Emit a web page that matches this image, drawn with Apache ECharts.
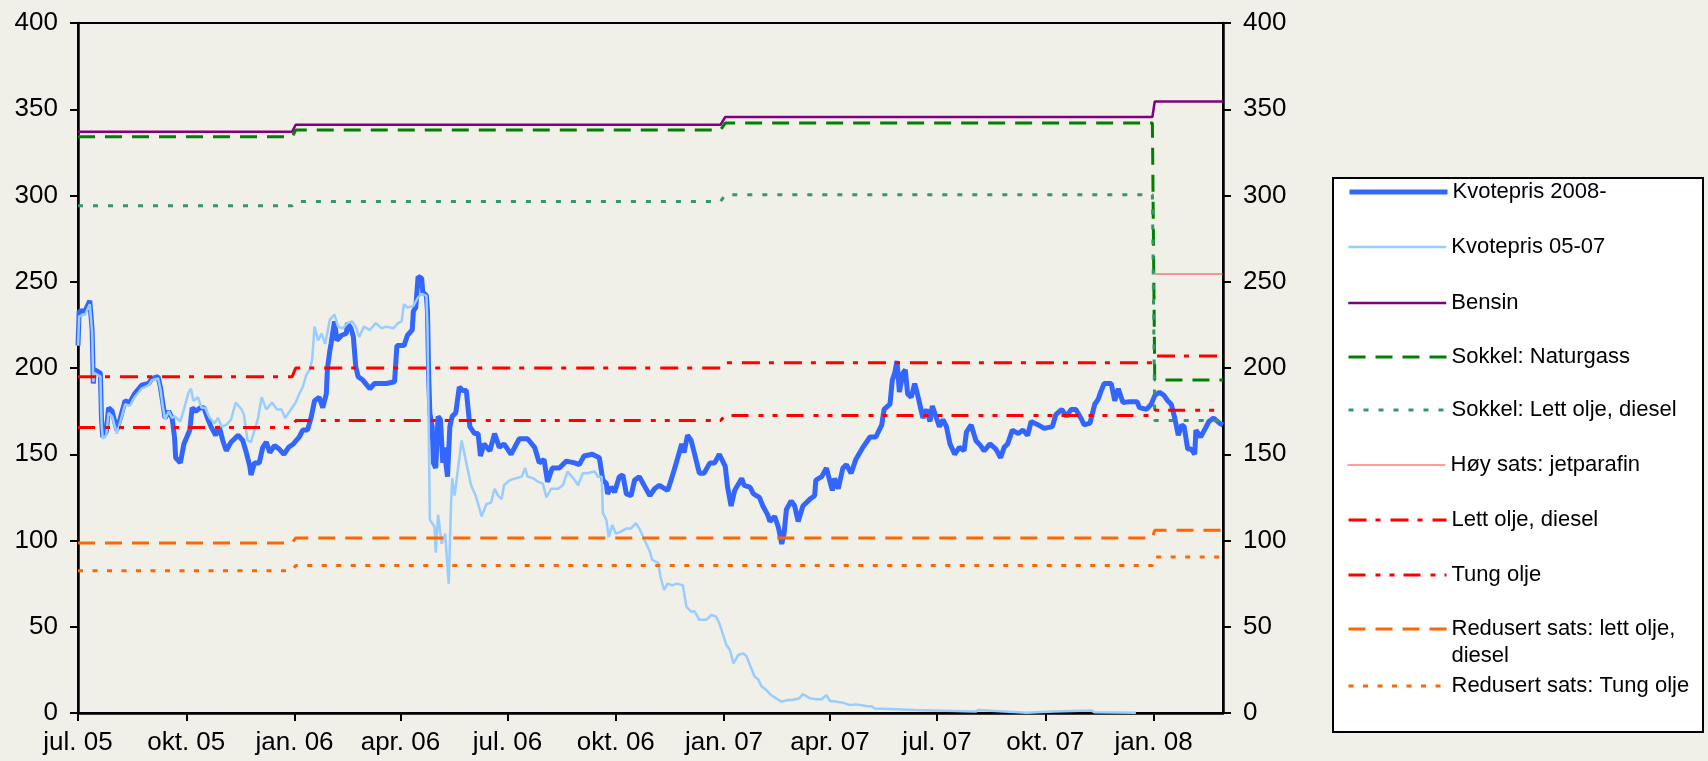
<!DOCTYPE html>
<html>
<head>
<meta charset="utf-8">
<title>Kvotepris og CO2-avgifter</title>
<script src="https://cdn.jsdelivr.net/npm/echarts@6/dist/echarts.min.js"></script>
<style>
    html, body { margin: 0; padding: 0; background: #f0efe8; }
    #chart { width: 1708px; height: 761px; }
</style>
</head>
<body>
<div id="chart"></div>
<script>
// x axis ticks (quarter starts)
var tickDates = ['2005-07-01', '2005-10-01', '2006-01-01', '2006-04-01', '2006-07-01', '2006-10-01',
    '2007-01-01', '2007-04-01', '2007-07-01', '2007-10-01', '2008-01-01'];
var tickLabels = ['jul. 05', 'okt. 05', 'jan. 06', 'apr. 06', 'jul. 06', 'okt. 06',
    'jan. 07', 'apr. 07', 'jul. 07', 'okt. 07', 'jan. 08'];

// tax rates, change at new year
var rateDates = ['2005-07-01', '2005-12-30', '2006-01-02', '2006-12-29', '2007-01-02', '2007-12-31', '2008-01-02', '2008-02-29'];
var bensin         = [337, 337, 341, 341, 345.5, 345.5, 354.5, 354.5];
var sokkelGass     = [334, 334, 338, 338, 342, 342, 193, 193];
var sokkelLettOlje = [294, 294, 296.5, 296.5, 300.5, 300.5, 169.5, 169.5];
var jetparafin     = [null, null, null, null, null, null, 254.5, 254.5];
var lettOlje       = [195, 195, 200, 200, 203, 203, 207, 207];
var tungOlje       = [165.5, 165.5, 169.5, 169.5, 172.5, 172.5, 175.5, 175.5];
var redLettOlje    = [98.5, 98.5, 101.5, 101.5, 101.5, 101.5, 106, 106];
var redTungOlje    = [82.5, 82.5, 85.5, 85.5, 85.5, 85.5, 90.5, 90.5];

// quota price, 2008- contract
var kvote2008 = [
    ['2005-07-01', 213], ['2005-07-02', 233], ['2005-07-07', 233], ['2005-07-11', 239], ['2005-07-13', 222],
    ['2005-07-14', 191], ['2005-07-15', 199], ['2005-07-20', 197], ['2005-07-21', 170], ['2005-07-22', 160],
    ['2005-07-25', 163], ['2005-07-27', 177], ['2005-07-30', 175], ['2005-08-03', 164], ['2005-08-06', 171],
    ['2005-08-10', 181], ['2005-08-14', 180], ['2005-08-18', 185], ['2005-08-24', 190], ['2005-08-30', 191],
    ['2005-09-02', 194], ['2005-09-07', 195], ['2005-09-09', 189], ['2005-09-11', 180], ['2005-09-13', 171],
    ['2005-09-16', 175], ['2005-09-19', 171], ['2005-09-21', 160], ['2005-09-22', 148], ['2005-09-26', 145],
    ['2005-09-29', 156], ['2005-10-04', 164], ['2005-10-06', 177], ['2005-10-09', 175], ['2005-10-13', 177],
    ['2005-10-16', 177], ['2005-10-19', 171], ['2005-10-22', 166], ['2005-10-26', 161], ['2005-10-29', 166],
    ['2005-11-01', 158], ['2005-11-04', 152], ['2005-11-08', 157], ['2005-11-14', 161], ['2005-11-18', 158],
    ['2005-11-21', 151], ['2005-11-24', 143], ['2005-11-25', 138], ['2005-11-28', 145], ['2005-12-02', 145],
    ['2005-12-05', 154], ['2005-12-08', 157], ['2005-12-11', 151], ['2005-12-15', 155], ['2005-12-19', 153],
    ['2005-12-23', 150], ['2005-12-27', 154], ['2005-12-31', 156], ['2006-01-05', 160], ['2006-01-08', 164],
    ['2006-01-12', 164], ['2006-01-15', 171], ['2006-01-18', 181], ['2006-01-22', 183], ['2006-01-25', 177],
    ['2006-01-28', 185], ['2006-01-29', 200], ['2006-01-31', 210], ['2006-02-01', 214], ['2006-02-04', 227],
    ['2006-02-06', 216], ['2006-02-10', 219], ['2006-02-14', 220], ['2006-02-15', 226], ['2006-02-18', 223],
    ['2006-02-20', 218], ['2006-02-22', 201], ['2006-02-24', 195], ['2006-02-28', 193], ['2006-03-06', 188],
    ['2006-03-10', 191], ['2006-03-16', 191], ['2006-03-20', 191], ['2006-03-27', 192], ['2006-03-29', 213],
    ['2006-04-04', 213], ['2006-04-07', 219], ['2006-04-11', 222], ['2006-04-12', 233], ['2006-04-14', 235],
    ['2006-04-16', 253], ['2006-04-19', 252], ['2006-04-20', 244], ['2006-04-23', 242], ['2006-04-24', 233],
    ['2006-04-25', 195], ['2006-04-26', 174], ['2006-04-28', 166], ['2006-04-29', 145], ['2006-05-01', 142],
    ['2006-05-03', 172], ['2006-05-05', 170], ['2006-05-07', 145], ['2006-05-08', 154], ['2006-05-11', 137],
    ['2006-05-13', 166], ['2006-05-15', 172], ['2006-05-18', 174], ['2006-05-21', 189], ['2006-05-24', 187],
    ['2006-05-27', 187], ['2006-05-30', 166], ['2006-06-03', 162], ['2006-06-06', 162], ['2006-06-08', 149],
    ['2006-06-11', 156], ['2006-06-16', 152], ['2006-06-20', 162], ['2006-06-24', 154], ['2006-06-28', 156],
    ['2006-07-04', 150], ['2006-07-11', 159], ['2006-07-18', 159], ['2006-07-24', 154], ['2006-07-28', 145],
    ['2006-08-01', 147], ['2006-08-04', 134], ['2006-08-08', 142], ['2006-08-14', 142], ['2006-08-20', 146],
    ['2006-08-27', 145], ['2006-08-31', 144], ['2006-09-04', 149], ['2006-09-11', 150], ['2006-09-17', 148],
    ['2006-09-20', 135], ['2006-09-23', 133], ['2006-09-24', 127], ['2006-09-27', 131], ['2006-09-30', 128],
    ['2006-10-04', 137], ['2006-10-07', 138], ['2006-10-10', 127], ['2006-10-14', 126], ['2006-10-17', 135],
    ['2006-10-21', 137], ['2006-10-25', 132], ['2006-10-30', 126], ['2006-11-03', 130], ['2006-11-07', 132],
    ['2006-11-14', 129], ['2006-11-17', 135], ['2006-11-21', 144], ['2006-11-26', 156], ['2006-11-28', 151],
    ['2006-12-01', 161], ['2006-12-04', 158], ['2006-12-07', 150], ['2006-12-11', 139], ['2006-12-15', 139],
    ['2006-12-20', 145], ['2006-12-24', 145], ['2006-12-28', 150], ['2007-01-02', 143], ['2007-01-04', 131],
    ['2007-01-07', 120], ['2007-01-10', 129], ['2007-01-16', 136], ['2007-01-18', 132], ['2007-01-23', 131],
    ['2007-01-26', 127], ['2007-01-31', 125], ['2007-02-03', 120], ['2007-02-07', 115], ['2007-02-09', 111],
    ['2007-02-13', 114], ['2007-02-16', 108], ['2007-02-17', 105], ['2007-02-19', 98], ['2007-02-21', 104],
    ['2007-02-23', 118], ['2007-02-27', 123], ['2007-03-02', 120], ['2007-03-05', 111], ['2007-03-09', 120],
    ['2007-03-15', 124], ['2007-03-19', 126], ['2007-03-20', 135], ['2007-03-25', 137], ['2007-03-29', 142],
    ['2007-04-03', 129], ['2007-04-05', 136], ['2007-04-08', 130], ['2007-04-12', 142], ['2007-04-15', 144],
    ['2007-04-19', 139], ['2007-04-23', 147], ['2007-04-29', 154], ['2007-05-05', 160], ['2007-05-10', 160],
    ['2007-05-15', 167], ['2007-05-17', 176], ['2007-05-22', 179], ['2007-05-24', 193], ['2007-05-26', 197],
    ['2007-05-28', 204], ['2007-05-30', 186], ['2007-06-02', 197], ['2007-06-04', 199], ['2007-06-06', 185],
    ['2007-06-09', 183], ['2007-06-12', 191], ['2007-06-15', 183], ['2007-06-18', 174], ['2007-06-19', 171],
    ['2007-06-22', 176], ['2007-06-25', 169], ['2007-06-27', 178], ['2007-06-30', 172], ['2007-07-03', 166],
    ['2007-07-06', 170], ['2007-07-09', 166], ['2007-07-12', 156], ['2007-07-16', 150], ['2007-07-20', 154],
    ['2007-07-24', 152], ['2007-07-26', 163], ['2007-07-30', 167], ['2007-08-03', 158], ['2007-08-07', 155],
    ['2007-08-10', 152], ['2007-08-15', 156], ['2007-08-20', 153], ['2007-08-24', 148], ['2007-08-27', 154],
    ['2007-08-30', 156], ['2007-09-03', 164], ['2007-09-08', 162], ['2007-09-12', 164], ['2007-09-16', 161],
    ['2007-09-19', 169], ['2007-09-25', 167], ['2007-09-30', 165], ['2007-10-07', 166], ['2007-10-10', 173],
    ['2007-10-15', 176], ['2007-10-19', 172], ['2007-10-23', 176], ['2007-10-27', 176], ['2007-11-01', 170],
    ['2007-11-03', 167], ['2007-11-08', 168], ['2007-11-12', 179], ['2007-11-15', 182], ['2007-11-17', 186],
    ['2007-11-20', 191], ['2007-11-26', 191], ['2007-11-29', 181], ['2007-12-02', 188], ['2007-12-06', 180],
    ['2007-12-12', 180.5], ['2007-12-18', 180.5], ['2007-12-20', 177], ['2007-12-26', 176], ['2007-12-30', 179],
    ['2008-01-02', 184], ['2008-01-06', 186], ['2008-01-10', 184], ['2008-01-13', 181], ['2008-01-16', 179],
    ['2008-01-19', 171], ['2008-01-22', 161], ['2008-01-25', 167], ['2008-01-27', 166], ['2008-01-30', 153],
    ['2008-02-02', 153], ['2008-02-05', 150], ['2008-02-06', 164], ['2008-02-10', 160], ['2008-02-14', 165],
    ['2008-02-17', 169], ['2008-02-21', 171], ['2008-02-26', 168], ['2008-02-29', 167]
];

// quota price, 05-07 contract
var kvote0507 = [
    ['2005-07-01', 213], ['2005-07-02', 230], ['2005-07-07', 231], ['2005-07-11', 237], ['2005-07-13', 221],
    ['2005-07-14', 192], ['2005-07-15', 197], ['2005-07-20', 195], ['2005-07-21', 168], ['2005-07-22', 159],
    ['2005-07-25', 161], ['2005-07-27', 174], ['2005-07-30', 172], ['2005-08-03', 162], ['2005-08-06', 169],
    ['2005-08-10', 179], ['2005-08-14', 178], ['2005-08-18', 183], ['2005-08-24', 188], ['2005-08-30', 190],
    ['2005-09-02', 193], ['2005-09-07', 194], ['2005-09-09', 188], ['2005-09-11', 178], ['2005-09-13', 170],
    ['2005-09-16', 175], ['2005-09-19', 171], ['2005-09-21', 172], ['2005-09-26', 169], ['2005-09-29', 176],
    ['2005-10-03', 186], ['2005-10-05', 188], ['2005-10-07', 181], ['2005-10-11', 183], ['2005-10-14', 177],
    ['2005-10-17', 177], ['2005-10-21', 171], ['2005-10-25', 168], ['2005-10-28', 171], ['2005-10-31', 166],
    ['2005-11-04', 167], ['2005-11-08', 170], ['2005-11-12', 180], ['2005-11-17', 176], ['2005-11-19', 173],
    ['2005-11-22', 158], ['2005-11-25', 157], ['2005-11-28', 164], ['2005-12-01', 171], ['2005-12-04', 183],
    ['2005-12-08', 176], ['2005-12-13', 180], ['2005-12-17', 176], ['2005-12-21', 176], ['2005-12-24', 171],
    ['2005-12-28', 175], ['2006-01-02', 180], ['2006-01-05', 185], ['2006-01-08', 189], ['2006-01-11', 196],
    ['2006-01-14', 199], ['2006-01-16', 205], ['2006-01-18', 224], ['2006-01-21', 216], ['2006-01-24', 220],
    ['2006-01-27', 214], ['2006-01-31', 228], ['2006-02-04', 231], ['2006-02-07', 224], ['2006-02-11', 223],
    ['2006-02-15', 226], ['2006-02-19', 227], ['2006-02-22', 224], ['2006-02-25', 218], ['2006-03-01', 224],
    ['2006-03-06', 222], ['2006-03-11', 226], ['2006-03-16', 223], ['2006-03-20', 224], ['2006-03-26', 223],
    ['2006-03-30', 226], ['2006-04-02', 227], ['2006-04-04', 237], ['2006-04-07', 235], ['2006-04-12', 236],
    ['2006-04-16', 241], ['2006-04-19', 243], ['2006-04-23', 242], ['2006-04-24', 224], ['2006-04-25', 166],
    ['2006-04-26', 112], ['2006-04-30', 108], ['2006-05-01', 93], ['2006-05-03', 115], ['2006-05-06', 98],
    ['2006-05-09', 104], ['2006-05-12', 75], ['2006-05-14', 121], ['2006-05-15', 136], ['2006-05-17', 126],
    ['2006-05-18', 126], ['2006-05-23', 158], ['2006-05-27', 145], ['2006-05-31', 132], ['2006-06-04', 126],
    ['2006-06-09', 114], ['2006-06-13', 121], ['2006-06-17', 122], ['2006-06-20', 130], ['2006-06-23', 126],
    ['2006-06-26', 124], ['2006-06-28', 132], ['2006-07-03', 135], ['2006-07-08', 136], ['2006-07-13', 137],
    ['2006-07-16', 142], ['2006-07-18', 137], ['2006-07-23', 136], ['2006-07-27', 134], ['2006-07-31', 133],
    ['2006-08-03', 125], ['2006-08-07', 130], ['2006-08-13', 130], ['2006-08-17', 132], ['2006-08-21', 140],
    ['2006-08-26', 136], ['2006-08-30', 132], ['2006-09-03', 139], ['2006-09-07', 139], ['2006-09-13', 140],
    ['2006-09-16', 137], ['2006-09-19', 137], ['2006-09-20', 116], ['2006-09-23', 112], ['2006-09-25', 102],
    ['2006-09-28', 109], ['2006-10-01', 104], ['2006-10-05', 105], ['2006-10-10', 107], ['2006-10-14', 107],
    ['2006-10-18', 110], ['2006-10-21', 107], ['2006-10-25', 101], ['2006-10-30', 93.5], ['2006-11-01', 88.7],
    ['2006-11-06', 87], ['2006-11-08', 79], ['2006-11-11', 71.3], ['2006-11-14', 75], ['2006-11-18', 74],
    ['2006-11-22', 75], ['2006-11-27', 74], ['2006-11-30', 61.6], ['2006-12-04', 58.7], ['2006-12-07', 59],
    ['2006-12-11', 54], ['2006-12-17', 54], ['2006-12-21', 56.8], ['2006-12-25', 56], ['2006-12-28', 52],
    ['2007-01-03', 39.4], ['2007-01-06', 36.5], ['2007-01-09', 28.8], ['2007-01-13', 33.6], ['2007-01-17', 34.6],
    ['2007-01-20', 33], ['2007-01-23', 27.8], ['2007-01-27', 21], ['2007-01-30', 19.5], ['2007-02-02', 15.3],
    ['2007-02-06', 13.3], ['2007-02-10', 10.4], ['2007-02-14', 8.5], ['2007-02-19', 6.6], ['2007-02-24', 7.5],
    ['2007-02-28', 7.5], ['2007-03-06', 8.5], ['2007-03-09', 11], ['2007-03-15', 8.5], ['2007-03-20', 8],
    ['2007-03-25', 8], ['2007-03-29', 10.4], ['2007-04-01', 7], ['2007-04-06', 6.6], ['2007-04-12', 6],
    ['2007-04-18', 4.6], ['2007-04-23', 5], ['2007-05-02', 4], ['2007-05-07', 3.7], ['2007-05-09', 2.6],
    ['2007-06-12', 1.7], ['2007-08-03', 0.8], ['2007-08-05', 1.7], ['2007-09-15', 0.2], ['2007-10-08', 0.8],
    ['2007-11-09', 1.5], ['2007-11-12', 0.4], ['2007-12-17', 0.1]
];

var FONT = '"Liberation Sans", Arial, sans-serif';

function localTime(s) {
    var p = s.split('-');
    return new Date(+p[0], +p[1] - 1, +p[2]).getTime();
}

function toTime(list) {
    return list.map(function (p) { return [localTime(p[0]), p[1]]; });
}

function pairs(dates, values) {
    return dates.map(function (d, i) { return [localTime(d), values[i]]; });
}

var tickValues = tickDates.map(localTime);

function tickLabel(value) {
    for (var i = 0; i < tickValues.length; i++) {
        if (Math.abs(tickValues[i] - value) < 43200000) return tickLabels[i];
    }
    return '';
}

function lineSeries(name, data, color, width, dash) {
    return {
        name: name,
        type: 'line',
        data: data,
        color: color,
        symbol: 'none',
        showSymbol: false,
        connectNulls: false,
        lineStyle: { color: color, width: width, type: dash || 'solid', cap: 'butt' }
    };
}

var series = [
    lineSeries('Kvotepris 2008-', toTime(kvote2008), '#3366ff', 5),
    lineSeries('Kvotepris 05-07', toTime(kvote0507), '#99ccff', 2.5),
    lineSeries('Bensin', pairs(rateDates, bensin), '#800080', 2.5),
    lineSeries('Sokkel: Naturgass', pairs(rateDates, sokkelGass), '#008000', 3, [17, 10]),
    lineSeries('Sokkel: Lett olje, diesel', pairs(rateDates, sokkelLettOlje), '#339966', 3, [5, 10]),
    lineSeries('Høy sats: jetparafin', pairs(rateDates, jetparafin), '#ff3b3b', 1),
    lineSeries('Lett olje, diesel', pairs(rateDates, lettOlje), '#ff0000', 3, [18, 9, 5, 10]),
    lineSeries('Tung olje', pairs(rateDates, tungOlje), '#ff0000', 3, [17, 10, 5, 9, 5, 9]),
    lineSeries('Redusert sats: lett olje, diesel', pairs(rateDates, redLettOlje), '#ff6600', 3, [17, 10]),
    lineSeries('Redusert sats: Tung olje', pairs(rateDates, redTungOlje), '#ff6600', 3, [5, 9.5])
];

// one legend per row, so the two-line entry can sit like in the original
var legendRows = [192, 247, 303, 357, 410, 465, 520, 575, 629, 686];
var legends = series.map(function (s, i) {
    var multi = s.name === 'Redusert sats: lett olje, diesel';
    return {
        show: true,
        data: [s.name],
        left: 1347,
        // empty first line keeps the symbol level with the first text line
        top: multi ? legendRows[i] - 40.5 : legendRows[i] - 13,
        padding: 0,
        itemWidth: 98,
        itemHeight: 14,
        selectedMode: false,
        itemStyle: { opacity: 0 },
        lineStyle: { width: 'inherit' },
        formatter: multi ? function () { return ' \nRedusert sats: lett olje,\ndiesel'; } : '{name}',
        textStyle: {
            fontFamily: FONT,
            fontSize: 22,
            color: '#000',
            lineHeight: multi ? 27 : 26
        }
    };
});

function yAxis(pos) {
    return {
        type: 'value',
        position: pos,
        min: 0,
        max: 400,
        interval: 50,
        axisLine: { show: true, lineStyle: { color: '#000', width: 2.5 } },
        axisTick: { show: true, inside: false, length: 8, lineStyle: { color: '#000', width: 2 } },
        axisLabel: { fontFamily: FONT, fontSize: 26, color: '#000', margin: 20 },
        splitLine: { show: false }
    };
}

var chart = echarts.init(document.getElementById('chart'), null, { renderer: 'canvas' });

var option = {
    backgroundColor: '#f0efe8',
    animation: false,
    grid: {
        left: 78, right: 485, top: 23, bottom: 48,
        show: true, borderColor: '#000', borderWidth: 2, backgroundColor: 'transparent',
        containLabel: false, outerBoundsMode: 'none'
    },
    xAxis: {
        type: 'value',
        min: localTime('2005-07-01'),
        max: localTime('2008-02-29'),
        axisLine: { show: true, onZero: false, lineStyle: { color: '#000', width: 2.5 } },
        axisTick: { show: true, length: 8, customValues: tickValues, lineStyle: { color: '#000', width: 2 } },
        axisLabel: {
            customValues: tickValues,
            formatter: tickLabel,
            fontFamily: FONT,
            fontSize: 26,
            color: '#000',
            margin: 17,
            showMinLabel: true,
            showMaxLabel: true
        },
        splitLine: { show: false }
    },
    yAxis: [yAxis('left'), yAxis('right')],
    legend: legends,
    graphic: [{
        type: 'rect',
        z: 0,
        shape: { x: 1333, y: 178, width: 370, height: 554 },
        style: { fill: '#ffffff', stroke: '#000', lineWidth: 2 }
    }],
    series: series
};

chart.setOption(option);
</script>
</body>
</html>
